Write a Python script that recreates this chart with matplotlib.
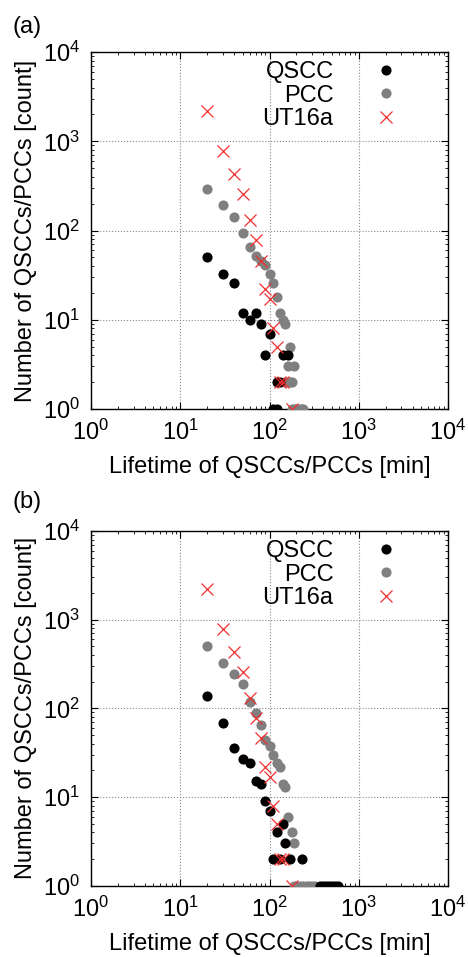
import matplotlib
matplotlib.use("Agg")
import matplotlib.pyplot as plt
import numpy as np

plt.rcParams['font.family'] = ['Liberation Sans', 'DejaVu Sans']
plt.rcParams['mathtext.fontset'] = 'custom'
plt.rcParams['mathtext.rm'] = 'Liberation Sans'

# panel (a)
qscc_a_x = [20, 30, 40, 50, 60, 70, 80, 90, 100, 120, 130, 140, 160, 110, 120]
qscc_a_y = [50, 33, 26, 12, 10, 12, 9, 4, 7, 2, 2, 4, 4, 1, 1]
pcc_a_x = [20, 30, 40, 50, 60, 70, 80, 90, 100, 110, 120, 130, 140, 150, 170, 160, 190,
           150, 160, 170, 180, 180, 190, 200, 210, 220, 230, 240]
pcc_a_y = [290, 193, 143, 93, 65, 52, 45, 41, 33, 26, 18, 12, 10, 9, 5, 3, 3,
           2, 2, 2, 2, 1, 1, 1, 1, 1, 1, 1]

# panel (b)
qscc_b_x = [20, 30, 40, 50, 60, 70, 80, 90, 100, 140, 120, 150, 110, 130, 170, 230,
            370, 400, 430, 460, 500, 540, 580]
qscc_b_y = [139, 68, 36, 27, 24, 15, 14, 9, 7, 5, 4, 3, 2, 2, 2, 2,
            1, 1, 1, 1, 1, 1, 1]
pcc_b_x = [20, 30, 40, 50, 60, 70, 80, 90, 100, 110, 120, 130, 140, 150, 160, 180, 190,
           190, 200, 220, 240, 260, 280, 300, 320]
pcc_b_y = [505, 327, 244, 188, 119, 88, 65, 44, 38, 30, 24, 22, 14, 13, 6, 4, 3,
           1, 1, 1, 1, 1, 1, 1, 1]

# UT16a reference (same in both panels)
ut_x = [20, 30, 40, 50, 60, 70, 80, 90, 100, 110, 120, 130, 140, 180]
ut_y = [2200, 780, 432, 257, 132, 78, 46, 22, 17, 8, 5, 2, 2, 1]

fig = plt.figure(figsize=(4.68, 9.57), dpi=100)

panels = [
    ([0.1944, 0.5726, 0.763, 0.373], qscc_a_x, qscc_a_y, pcc_a_x, pcc_a_y, '(a)', 1 - 27/957),
    ([0.1944, 0.0747, 0.763, 0.3703], qscc_b_x, qscc_b_y, pcc_b_x, pcc_b_y, '(b)', 1 - 502/957),
]

for rect, qx, qy, px, py, tag, ty in panels:
    ax = fig.add_axes(rect)
    hp, = ax.plot(px, py, 'o', color='#808080', ms=7.3, mew=0, zorder=3, label='PCC')
    hq, = ax.plot(qx, qy, 'o', color='black', ms=7.3, mew=0, zorder=4, label='QSCC')
    hu, = ax.plot(ut_x, ut_y, 'x', color='#f03030', ms=8, mew=0.9, zorder=5, label='UT16a')
    ax.set_xscale('log')
    ax.set_yscale('log')
    ax.set_xlim(1, 1e4)
    ax.set_ylim(1, 1e4)
    ax.set_xticks([1, 10, 100, 1000, 10000])
    ax.set_yticks([1, 10, 100, 1000, 10000])
    ax.grid(True, which='major', color='#888888', linestyle=':', linewidth=0.8)
    ax.tick_params(which='both', direction='in', top=True, right=True, labelsize=17)
    ax.tick_params(which='major', length=5, width=0.8, pad=8)
    ax.tick_params(which='minor', length=2.5, width=0.6)
    for s in ax.spines.values():
        s.set_linewidth(1.0)
    ax.set_xlabel('Lifetime of QSCCs/PCCs [min]', fontsize=17, labelpad=8)
    ax.set_ylabel('Number of QSCCs/PCCs [count]', fontsize=17, labelpad=4)
    ax.legend([hq, hp, hu], ['QSCC', 'PCC', 'UT16a'], loc='upper right',
              bbox_to_anchor=(0.891, 0.975), markerfirst=False, frameon=False,
              fontsize=17, handlelength=2.0, handletextpad=1.2, labelspacing=0.07,
              borderpad=0, borderaxespad=0)
    fig.text(12/468, ty, tag, fontsize=17, va='center', ha='left')

fig.savefig('out.png', dpi=100)
